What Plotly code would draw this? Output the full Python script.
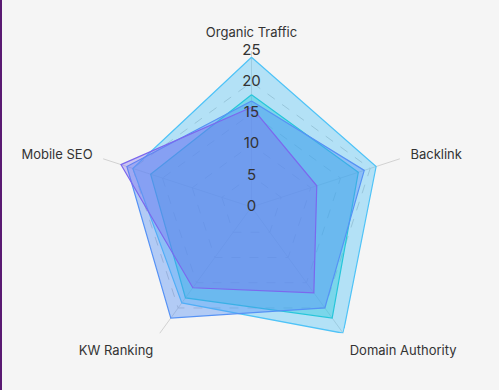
import plotly.graph_objects as go

categories = ["Organic Traffic", "Backlink", "Domain Authority", "KW Ranking", "Mobile SEO"]
series_names = ["Series 1", "Series 2", "Series 3", "Series 4"]
s1 = [24, 21, 25, 19, 20]
s2 = [18, 18, 22, 18, 17]
s3 = [17, 19, 20, 22, 21]
s4 = [16, 11, 17, 16, 22]
tick_vals = [0, 5, 10, 15, 20, 25]
tick_labels = ["0", "5", "10", "15", "20", "25"]

series = [s1, s2, s3, s4]
line_colors = ["rgb(79,195,247)", "rgb(38,198,218)", "rgb(86,146,245)", "rgb(123,104,238)"]
fill_colors = ["rgba(79,195,247,0.4)", "rgba(38,198,218,0.4)", "rgba(86,146,245,0.42)", "rgba(123,104,238,0.35)"]

fig = go.Figure()
for name, vals, lc, fc in zip(series_names, series, line_colors, fill_colors):
    fig.add_trace(go.Scatterpolar(
        r=vals + vals[:1], theta=categories + categories[:1], name=name,
        mode="lines", fill="toself", fillcolor=fc,
        line=dict(color=lc, width=1.2), hoverinfo="skip",
    ))

# radial tick labels drawn along the first spoke (a zero radius is nudged so it is not dropped)
label_r = [v if v > 0 else 0.001 for v in tick_vals]
fig.add_trace(go.Scatterpolar(
    r=label_r, theta=[categories[0]] * len(tick_vals), mode="text",
    text=tick_labels, textposition="middle center", cliponaxis=False,
    textfont=dict(family="Inter", size=15, color="#333333"),
    hoverinfo="skip", showlegend=False,
))

fig.update_layout(
    width=499, height=390,
    margin=dict(l=0, r=0, t=0, b=0),
    paper_bgcolor="#f5f5f5", plot_bgcolor="#f5f5f5",
    showlegend=False,
    polar=dict(
        bgcolor="rgba(0,0,0,0)",
        domain=dict(x=[0.1914, 0.8166], y=[0.0692, 0.8692]),
        gridshape="linear",
        radialaxis=dict(range=[0, 25], tickvals=tick_vals, showticklabels=False,
                        ticks="", showline=False, gridcolor="#c8c8c8", griddash="dash",
                        gridwidth=1),
        angularaxis=dict(direction="clockwise", rotation=90, showline=False,
                         gridcolor="#d2d2d2", ticks="outside", ticklen=8,
                         tickcolor="rgba(0,0,0,0)",
                         tickfont=dict(family="Inter", size=13, color="#333333")),
    ),
    shapes=[dict(type="line", xref="paper", yref="paper", x0=0.002, x1=0.002, y0=0, y1=1,
                 line=dict(color="#5a1a72", width=2))],
)

fig.write_html("out.html", post_script="document.body.style.margin='0';",
               config={"displayModeBar": False})
